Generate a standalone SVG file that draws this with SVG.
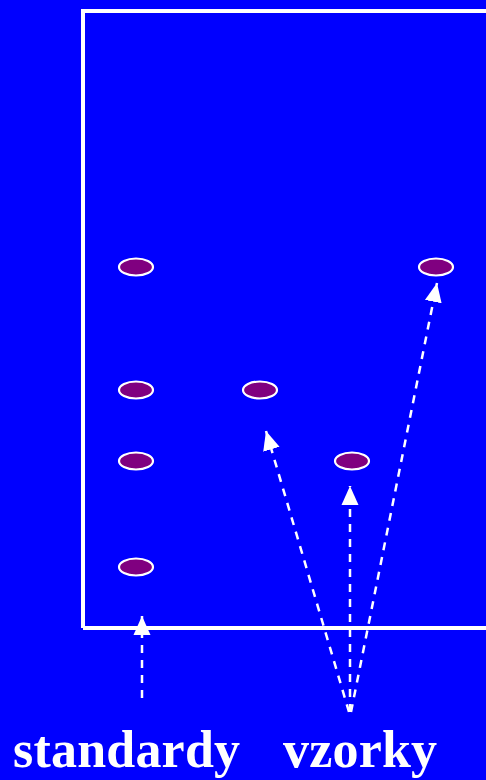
<svg xmlns="http://www.w3.org/2000/svg" width="486" height="780" viewBox="0 0 486 780">
<style>
.spot{fill:#800080;stroke:#fff;stroke-width:2.2}
.conn{stroke:#fff;stroke-width:2.5;stroke-dasharray:8,7;fill:none}
.lbl{font-family:"Liberation Serif",serif;font-weight:bold;font-size:52px;fill:#fff}
</style>
<defs>
<marker id="ah" markerUnits="userSpaceOnUse" markerWidth="20" markerHeight="20" viewBox="0 0 20 20" refX="19" refY="10" orient="auto">
<path d="M0,1.5 L19,10 L0,18.5 Z" fill="#fff"/>
</marker>
</defs>
<rect x="0" y="0" width="486" height="780" fill="#0000ff"/>
<path d="M83,628 L83,11 L490,11 M83,628 L490,628" fill="none" stroke="#fff" stroke-width="4"/>
<g id="s1"><ellipse class="spot" cx="136" cy="267" rx="17" ry="8.5"/></g>
<g id="s2"><ellipse class="spot" cx="136" cy="390" rx="17" ry="8.5"/></g>
<g id="s3"><ellipse class="spot" cx="136" cy="461" rx="17" ry="8.5"/></g>
<g id="s4"><ellipse class="spot" cx="136" cy="567" rx="17" ry="8.5"/></g>
<g id="v1"><ellipse class="spot" cx="260" cy="390" rx="17" ry="8.5"/></g>
<g id="v2"><ellipse class="spot" cx="352" cy="461" rx="17" ry="8.5"/></g>
<g id="v3"><ellipse class="spot" cx="436" cy="267" rx="17" ry="8.5"/></g>
<g id="connectors">
<line class="conn" x1="142" y1="698" x2="142" y2="616" marker-end="url(#ah)"/>
<line class="conn" x1="349" y1="712" x2="266" y2="431" marker-end="url(#ah)"/>
<line class="conn" x1="350" y1="712" x2="350" y2="486" marker-end="url(#ah)"/>
<line class="conn" x1="351" y1="712" x2="437" y2="283" marker-end="url(#ah)"/>
</g>
<g id="labels">
<text class="lbl" x="13" y="767" textLength="227">standardy</text>
<text class="lbl" x="283" y="767" textLength="154">vzorky</text>
</g>
</svg>
